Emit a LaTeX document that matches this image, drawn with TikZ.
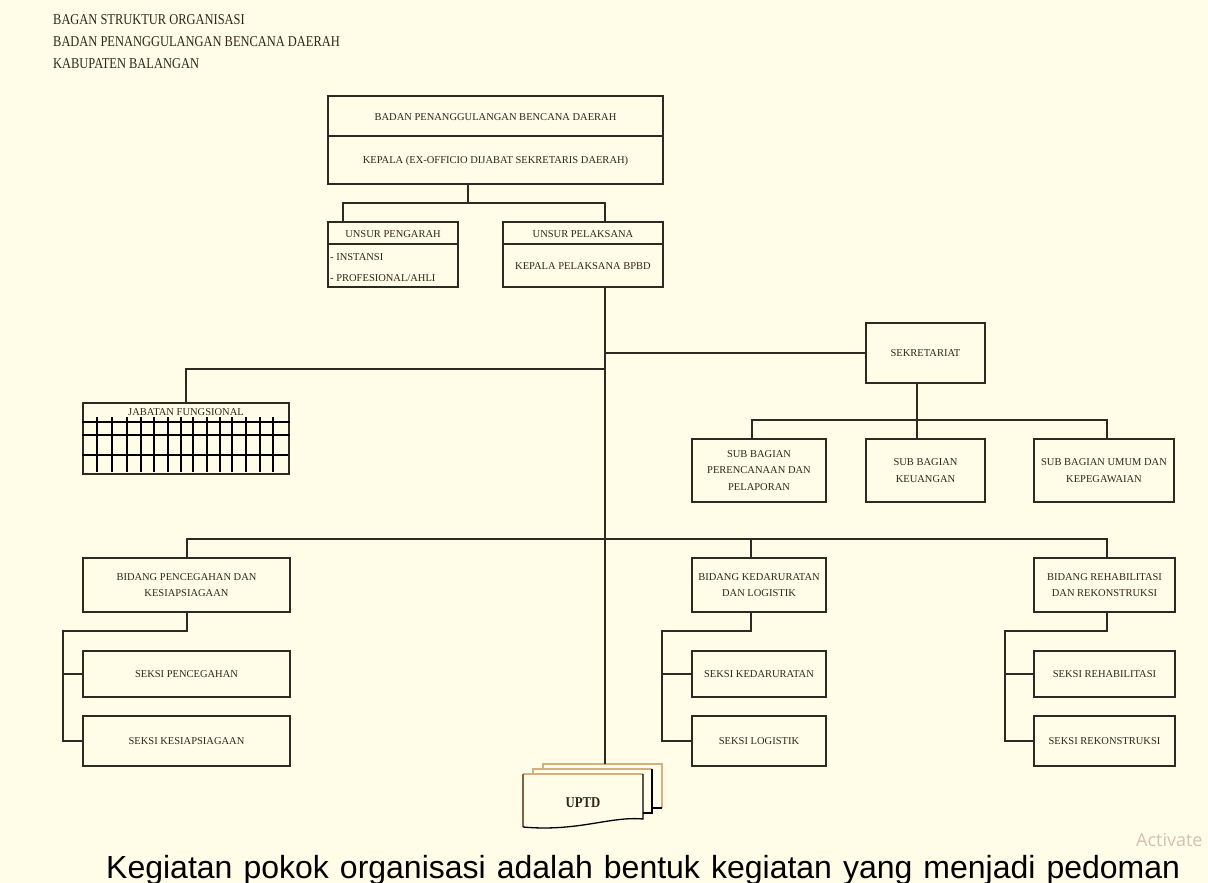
\documentclass[tikz,border=0pt]{standalone}
\usepackage{fontspec}
\setmainfont{Liberation Serif}
\newfontfamily\arialf{Liberation Sans}
\newfontfamily\uifont{Open Sans}
\usetikzlibrary{calc}
\definecolor{bgc}{RGB}{255,253,231}
\definecolor{lnc}{RGB}{45,42,36}
\definecolor{txc}{RGB}{50,38,22}
\definecolor{wmc}{RGB}{208,194,178}
\definecolor{tanc}{RGB}{210,176,128}
\begin{document}
\begin{tikzpicture}[x=1pt,y=-1pt,
  box/.style={draw=lnc, line width=1.5pt, fill=bgc, inner sep=0pt, text=txc,
    align=center, font=\fontsize{10.5}{16.5}\selectfont},
  lbl/.style={inner sep=0pt, text=txc, font=\fontsize{10.5}{13}\selectfont},
  conn/.style={draw=lnc, line width=1.5pt},
  grid/.style={draw=black, line width=1.2pt},
  sheet/.style={fill=bgc, draw=none},
  sheetdark/.style={draw=black, line width=1.3pt},
  sheettan/.style={draw=tanc, line width=1.8pt},
  ttl/.style={anchor=west, inner sep=0pt, text=txc, font=\fontsize{15}{18}\selectfont}]
% background
\fill[bgc] (0,0) rectangle (1208,883);
\useasboundingbox (0,0) rectangle (1208,883);

% titles
\node[ttl] (t1) at (53,20) {\scalebox{0.83}[1]{BAGAN STRUKTUR ORGANISASI}};
\node[ttl] (t2) at (53,42) {\scalebox{0.83}[1]{BADAN PENANGGULANGAN BENCANA DAERAH}};
\node[ttl] (t3) at (53,64) {\scalebox{0.83}[1]{KABUPATEN BALANGAN}};

% top box
\node[box, minimum width=335pt, minimum height=88pt] (top) at (495.5,140) {};
\draw[conn] (top.west |- 0,136) -- (top.east |- 0,136);
\node[lbl] (topa) at (495.5,117) {BADAN PENANGGULANGAN BENCANA DAERAH};
\node[lbl] (topb) at (495.5,161) {KEPALA (EX-OFFICIO DIJABAT SEKRETARIS DAERAH)};

% unsur pengarah
\node[box, minimum width=130pt, minimum height=65pt] (peng) at (393,254.5) {};
\draw[conn] (peng.west |- 0,244) -- (peng.east |- 0,244);
\node[lbl] (penga) at (393,234) {UNSUR PENGARAH};
\node[lbl, anchor=west] (pengb) at (330,257) {- INSTANSI};
\node[lbl, anchor=west] (pengc) at (330,278) {- PROFESIONAL/AHLI};

% unsur pelaksana
\node[box, minimum width=160pt, minimum height=65pt] (pel) at (583,254.5) {};
\draw[conn] (pel.west |- 0,244) -- (pel.east |- 0,244);
\node[lbl] (pela) at (583,234) {UNSUR PELAKSANA};
\node[lbl] (pelb) at (583,266) {KEPALA PELAKSANA BPBD};

% sekretariat
\node[box, minimum width=119pt, minimum height=60pt] (sekr) at (925.5,353) {SEKRETARIAT};
\node[box, minimum width=134pt, minimum height=63pt] (perenc) at (759,470.5) {SUB BAGIAN\\PERENCANAAN DAN\\PELAPORAN};
\node[box, minimum width=119pt, minimum height=63pt] (keu) at (925.5,470.5) {SUB BAGIAN\\KEUANGAN};
\node[box, minimum width=140pt, minimum height=63pt] (umum) at (1104,470.5) {SUB BAGIAN UMUM DAN\\KEPEGAWAIAN};

% jabatan fungsional
\node[box, minimum width=206pt, minimum height=71pt] (jab) at (186,438.5) {};
\draw[grid] (jab.west |- 0,422) -- (jab.east |- 0,422);
\draw[grid] (jab.west |- 0,435) -- (jab.east |- 0,435);
\draw[grid] (jab.west |- 0,455) -- (288,455);
\foreach \gx in {97,112,127,141,154,168,181,193,207,220,232,246,260,273}{
  \draw[grid] (\gx,417) -- (\gx,472);
}
\node[lbl, fill=bgc, inner sep=1pt] (jabt) at (186,412) {JABATAN FUNGSIONAL};

% bidang
\node[box, minimum width=207pt, minimum height=54pt] (bp) at (186.5,585) {BIDANG PENCEGAHAN DAN\\KESIAPSIAGAAN};
\node[box, minimum width=134pt, minimum height=54pt] (bk) at (759,585) {BIDANG KEDARURATAN\\DAN LOGISTIK};
\node[box, minimum width=141pt, minimum height=54pt] (br) at (1104.5,585) {BIDANG REHABILITASI\\DAN REKONSTRUKSI};

% seksi
\node[box, minimum width=207pt, minimum height=46pt] (sp) at (186.5,674) {SEKSI PENCEGAHAN};
\node[box, minimum width=207pt, minimum height=50pt] (ss) at (186.5,741) {SEKSI KESIAPSIAGAAN};
\node[box, minimum width=134pt, minimum height=46pt] (skd) at (759,674) {SEKSI KEDARURATAN};
\node[box, minimum width=134pt, minimum height=50pt] (slg) at (759,741) {SEKSI LOGISTIK};
\node[box, minimum width=141pt, minimum height=46pt] (srh) at (1104.5,674) {SEKSI REHABILITASI};
\node[box, minimum width=141pt, minimum height=50pt] (srk) at (1104.5,741) {SEKSI REKONSTRUKSI};

% UPTD stacked documents
\coordinate (uptop) at (605,764);
% back sheet
\fill[sheet] (543,764) rectangle (662,808);
\draw[sheettan] (543,808) -- (543,764) -- (662,764) -- (662,808);
\draw[sheetdark] (652,808) -- (662,808);
% middle sheet
\fill[sheet] (533,769) rectangle (652,813);
\draw[sheettan] (533,813) -- (533,769) -- (652,769);
\draw[sheetdark] (652,769) -- (652,813) -- (643,813);
% front sheet
\fill[sheet] (523,774) -- (643,774) -- (643,819)
  .. controls (610,816) and (578,832) .. (523,827) -- cycle;
\draw[sheettan] (523,774) -- (643,774);
\draw[draw={rgb,255:red,120;green,100;blue,70}, line width=1.3pt] (523,827) -- (523,774);
\draw[sheetdark] (643,774) -- (643,819)
  .. controls (610,816) and (578,832) .. (523,827);
\node[inner sep=0pt, text=txc, font=\fontsize{15}{17}\selectfont\bfseries] (uptd) at (583,803) {\scalebox{0.85}[1]{UPTD}};

% connectors
\coordinate (c0) at (468,203);
\coordinate (hA) at (343,203);
\coordinate (hB) at (605,203);
\draw[conn] (top.south -| c0) -- (c0);
\draw[conn] (peng.north -| hA) -- (hA) -- (hB) -- (pel.north -| hB);
\draw[conn] (pel.south -| hB) -- (uptop);
\coordinate (st) at (605,353);
\draw[conn] (st) -- (sekr.west);
\coordinate (jt) at (605,369);
\draw[conn] (jt) -| (jab.north);
\coordinate (s0) at (917,420);
\coordinate (s1) at (752,420);
\coordinate (s2) at (1107,420);
\draw[conn] (sekr.south -| s0) -- (s0);
\draw[conn] (perenc.north -| s1) -- (s1) -- (s2) -- (umum.north -| s2);
\draw[conn] (s0) -- (keu.north -| s0);
\coordinate (b1) at (187,539);
\coordinate (b2) at (751,539);
\coordinate (b3) at (1107,539);
\draw[conn] (bp.north -| b1) -- (b1) -- (b3) -- (br.north -| b3);
\draw[conn] (b2) -- (bk.north -| b2);
% left subtree
\coordinate (l0) at (187,631);
\coordinate (lr) at (63,631);
\draw[conn] (bp.south -| l0) -- (l0) -- (lr) |- (ss.west);
\draw[conn] (lr |- sp.west) -- (sp.west);
% middle subtree
\coordinate (m0) at (751,631);
\coordinate (mr) at (662,631);
\draw[conn] (bk.south -| m0) -- (m0) -- (mr) |- (slg.west);
\draw[conn] (mr |- skd.west) -- (skd.west);
% right subtree
\coordinate (r0) at (1107,631);
\coordinate (rr) at (1005,631);
\draw[conn] (br.south -| r0) -- (r0) -- (rr) |- (srk.west);
\draw[conn] (rr |- srh.west) -- (srh.west);

% body text and watermark
\node[anchor=west, inner sep=0pt, text=wmc, font=\uifont\fontsize{18}{21}\selectfont] (wm) at (1136,840) {Activate};
\node[anchor=base west, inner sep=0pt, text=black, font=\arialf\fontsize{32}{38}\selectfont] (para) at (106,878)
  {\makebox[1074pt][s]{Kegiatan pokok organisasi adalah bentuk kegiatan yang menjadi pedoman}};
\end{tikzpicture}
\end{document}
